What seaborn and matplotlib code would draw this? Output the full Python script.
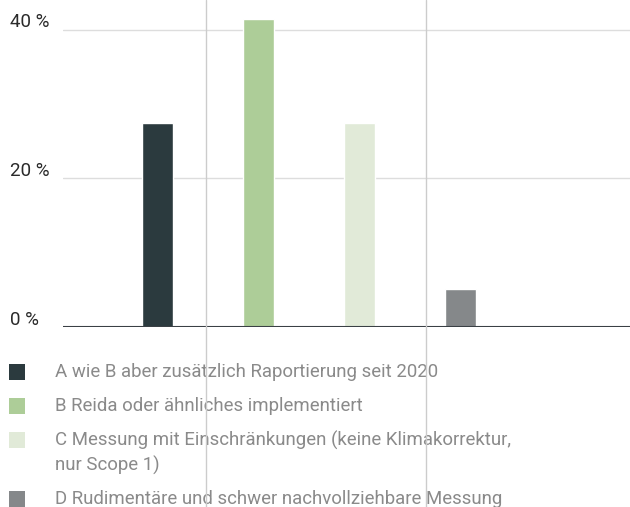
import pandas as pd
import matplotlib.pyplot as plt
import seaborn as sns
from matplotlib import transforms
from matplotlib.patches import Rectangle
from matplotlib.lines import Line2D

categories = ['A', 'B', 'C', 'D']
shares = [27.4, 41.5, 27.4, 5.1]
colors = ['#2b3a3e', '#adcd98', '#e1ead8', '#85888a']
legend_labels = [
    'A wie B aber zusätzlich Raportierung seit 2020',
    'B Reida oder ähnliches implementiert',
    'C Messung mit Einschränkungen (keine Klimakorrektur,\nnur Scope 1)',
    'D Rudimentäre und schwer nachvollziehbare Messung',
]
y_ticks = [0, 20, 40]
y_tick_labels = ['0 %', '20 %', '40 %']

sns.set_theme(style='white')
plt.rcParams['font.family'] = ['Roboto', 'DejaVu Sans']

W, H = 630, 507
fig = plt.figure(figsize=(W / 100, H / 100), dpi=100)
ax = fig.add_axes([63 / W, (H - 327) / H, 1 - 63 / W, 327 / H])

df = pd.DataFrame({'cat': categories, 'share': shares})
sns.barplot(data=df, x='cat', y='share', hue='cat', palette=colors,
            width=0.31, legend=False, ax=ax, saturation=1, zorder=3)

ax.set_facecolor('none')
ax.set_xlim(-0.94, 4.68)
ax.set_ylim(0, 44)
ax.set_xlabel('')
ax.set_ylabel('')
ax.set_xticks([])
ax.set_yticks([])
for s in ax.spines.values():
    s.set_visible(False)

# horizontal grid + baseline
for t in y_ticks:
    if t == 0:
        ax.axhline(0, color='#3a4045', lw=1.5, zorder=4)
    else:
        ax.axhline(t, color='#dddddd', lw=1.0, zorder=1)

# y labels above gridlines, at figure left
trans = transforms.blended_transform_factory(fig.transFigure, ax.transData)
for t, lab in zip(y_ticks, y_tick_labels):
    ax.text(10 / W, t + 0.3, lab, transform=trans, ha='left', va='baseline',
            fontsize=13.5, color='#2a2a2a', clip_on=False)

# page layout vertical lines
for xp in [206, 425.5]:
    fig.add_artist(Line2D([xp / W, xp / W], [0, 1], transform=fig.transFigure,
                          color='#cccccc', lw=1.0, zorder=10))

# manual legend
square_y = [372, 406, 440, 499]
text_y = [372, 406, 453, 499]
for yc, ty, col, lab in zip(square_y, text_y, colors, legend_labels):
    fig.patches.append(Rectangle((9 / W, 1 - (yc + 8) / H), 16 / W, 16 / H,
                                 transform=fig.transFigure, facecolor=col,
                                 edgecolor='none', zorder=3))
    fig.text(55 / W, 1 - ty / H, lab, ha='left', va='center',
             fontsize=13.4, color='#8a8a8a', linespacing=1.4)

fig.savefig('out.png', dpi=100)
